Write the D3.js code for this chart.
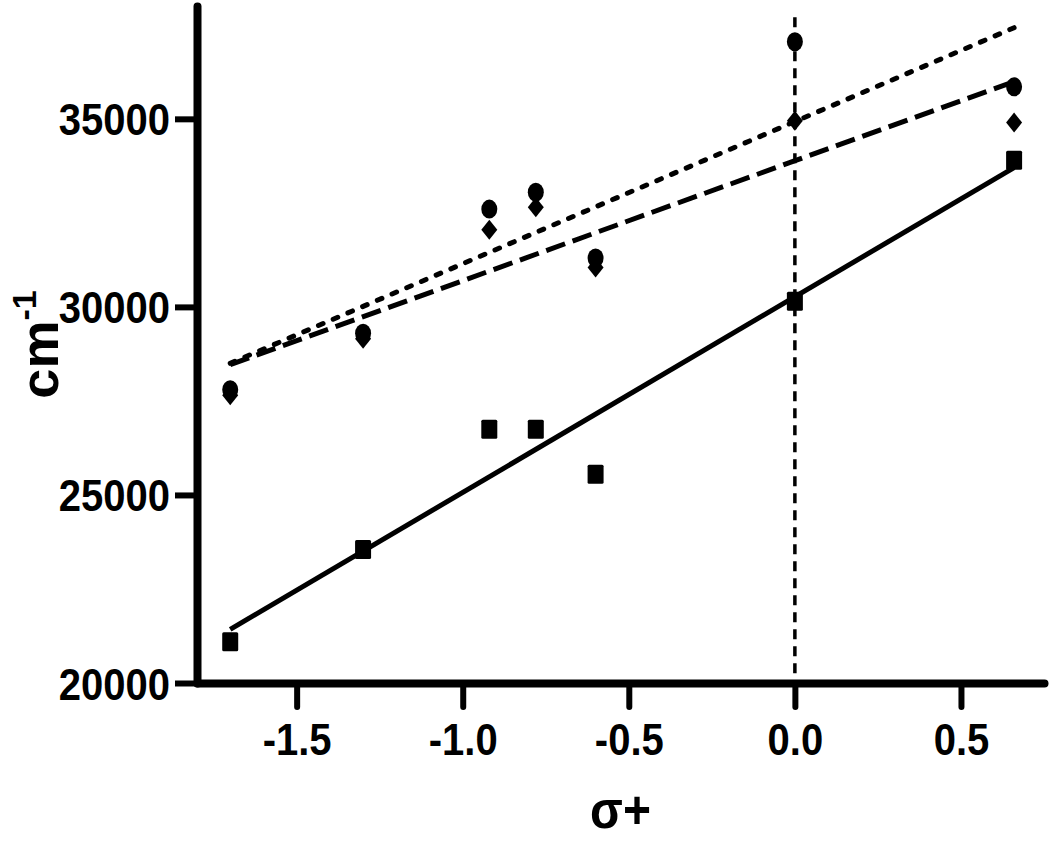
<!DOCTYPE html>
<html>
<head>
<meta charset="utf-8">
<script src="https://cdn.jsdelivr.net/npm/d3@7"></script>
<style>
body{margin:0;background:#fff;}
svg text{font-family:"Liberation Sans",Arial,sans-serif;font-weight:bold;fill:#000;}
</style>
</head>
<body>
<script>
// values
var sigma    = [-1.70, -1.30, -0.92, -0.78, -0.60, 0.00, 0.66];
var circles  = [27800, 29300, 32600, 33050, 31300, 37050, 35850];
var diamonds = [27650, 29150, 32050, 32650, 31050, 34950, 34900];
var squares  = [21100, 23550, 26750, 26750, 25550, 30150, 33900];
var xTicks = [-1.5, -1.0, -0.5, 0.0, 0.5];
var yTicks = [20000, 25000, 30000, 35000];
var xDomain = [-1.8, 0.75];
var yDomain = [20000, 38000];
var refTop = 37700;

fit = function(xs, ys){
	var mx = d3.mean(xs), my = d3.mean(ys);
	var sxy = 0, sxx = 0;
	for(var i=0; i < xs.length; i++){
		sxy += (xs[i]-mx)*(ys[i]-my);
		sxx += (xs[i]-mx)*(xs[i]-mx);
	}
	var m = sxy/sxx;
	return {m: m, b: my - m*mx};
};

fmt = function(d){ return d3.format(".1f")(d).replace("\u2212","-"); };

main = function(){
	var W = 1050, H = 845;
	var svg = d3.select("body").append("svg")
		.attr("width",W).attr("height",H);

	var x = d3.scaleLinear().domain(xDomain).range([197,1044]);
	var y = d3.scaleLinear().domain(yDomain).range([683,6]);
	var stretch = "scale(1,1.13)";

	// reference line at sigma = 0
	svg.append("line")
		.attr("x1",x(0)).attr("x2",x(0))
		.attr("y1",y(refTop)).attr("y2",y(yDomain[0]))
		.attr("stroke","#000").attr("stroke-width",3.5)
		.attr("stroke-dasharray","10,7");

	// fitted lines
	var series = [
		{vals: circles,  dash: "5,11", cap: "round"},
		{vals: diamonds, dash: "20,8", cap: "butt"},
		{vals: squares,  dash: null,   cap: "butt"}
	];
	var x0 = d3.min(sigma), x1 = d3.max(sigma);
	series.forEach(function(s){
		var f = fit(sigma, s.vals);
		svg.append("line")
			.attr("x1",x(x0)).attr("y1",y(f.m*x0+f.b))
			.attr("x2",x(x1)).attr("y2",y(f.m*x1+f.b))
			.attr("stroke","#000").attr("stroke-width",5)
			.attr("stroke-linecap",s.cap)
			.attr("stroke-dasharray",s.dash);
	});

	// markers
	svg.selectAll(".sq").data(squares).enter().append("rect")
		.attr("class","sq")
		.attr("x",function(d,i){ return x(sigma[i])-8; })
		.attr("y",function(d){ return y(d)-9.5; })
		.attr("width",16).attr("height",19)
		.attr("rx",1.5);
	svg.selectAll(".dm").data(diamonds).enter().append("path")
		.attr("class","dm")
		.attr("d",function(d,i){
			var cx = x(sigma[i]), cy = y(d);
			return "M"+cx+","+(cy-10)+"L"+(cx+8)+","+cy+"L"+cx+","+(cy+10)+"L"+(cx-8)+","+cy+"Z";
		});
	svg.selectAll(".ci").data(circles).enter().append("ellipse")
		.attr("class","ci")
		.attr("cx",function(d,i){ return x(sigma[i]); })
		.attr("cy",function(d){ return y(d); })
		.attr("rx",8).attr("ry",9.5);

	// x axis
	var gx = svg.append("g")
		.attr("transform","translate(0,"+y(yDomain[0])+")")
		.call(d3.axisBottom(x).tickValues(xTicks).tickSize(24).tickSizeOuter(0).tickFormat(""));
	gx.select(".domain").attr("stroke-width",8).attr("stroke-linecap","round");
	gx.selectAll(".tick line").attr("stroke-width",6).attr("stroke-linecap","round");
	gx.selectAll(".tick").append("text")
		.attr("text-anchor","middle")
		.attr("transform","translate(0,72) "+stretch)
		.style("font-size","40px")
		.text(fmt);

	// y axis
	var gy = svg.append("g")
		.attr("transform","translate("+x(xDomain[0])+",0)")
		.call(d3.axisLeft(y).tickValues(yTicks).tickSize(22).tickSizeOuter(0).tickFormat(""));
	gy.select(".domain").attr("stroke-width",8).attr("stroke-linecap","round");
	gy.selectAll(".tick line").attr("stroke-width",6);
	gy.selectAll(".tick").append("text")
		.attr("text-anchor","end")
		.attr("transform","translate(-27,16) "+stretch)
		.style("font-size","40px")
		.text(function(d){ return d; });

	// axis titles
	svg.append("text")
		.attr("text-anchor","middle")
		.attr("transform","translate("+((x.range()[0]+x.range()[1])/2)+",828) "+stretch)
		.style("font-size","48px")
		.text("\u03c3+");

	var yt = svg.append("text")
		.attr("text-anchor","middle")
		.attr("transform","translate(58,"+((y.range()[0]+y.range()[1])/2)+") rotate(-90)")
		.style("font-size","54px");
	yt.append("tspan").text("cm");
	yt.append("tspan").attr("dy",-22).style("font-size","34px").text("-1");
};

main();
</script>
</body>
</html>
